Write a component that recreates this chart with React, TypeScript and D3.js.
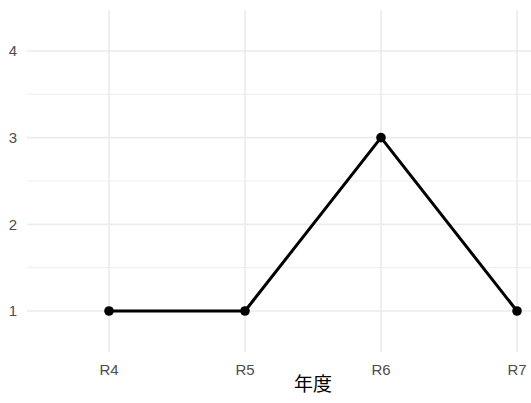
import React from "react";
import * as d3 from "d3";

const categories = ["R4", "R5", "R6", "R7"];
const values = [1, 1, 3, 1];
const yTicks = [1, 2, 3, 4];
const yMinorTicks = [1.5, 2.5, 3.5];
const xTitle = "年度";

const W = 531;
const H = 403;
const panel = { left: 27, top: 10, bottom: 352 };

export default function App() {
  const step = 136;
  const x0 = 109;
  const x = d3
    .scalePoint<string>()
    .domain(categories)
    .range([x0, x0 + step * (categories.length - 1)]);
  const panelRight = x0 + step * (categories.length - 1) + 82;
  const y = d3.scaleLinear().domain([1, 4]).range([311, 51]);

  const line = d3
    .line<number>()
    .x((_, i) => x(categories[i]) as number)
    .y((d) => y(d));

  const font = "'Liberation Sans', Arial, Helvetica, sans-serif";

  return (
    <svg
      width={W}
      height={H}
      style={{ position: "absolute", left: 0, top: 0, background: "#fff" }}
    >
      <rect width={W} height={H} fill="#fff" />
      {yMinorTicks.map((t) => (
        <line
          key={"m" + t}
          x1={panel.left}
          x2={panelRight}
          y1={y(t)}
          y2={y(t)}
          stroke="#EBEBEB"
          strokeWidth={0.9}
        />
      ))}
      {yTicks.map((t) => (
        <line
          key={"y" + t}
          x1={panel.left}
          x2={panelRight}
          y1={y(t)}
          y2={y(t)}
          stroke="#EBEBEB"
          strokeWidth={1.6}
        />
      ))}
      {categories.map((c) => (
        <line
          key={"x" + c}
          x1={x(c)}
          x2={x(c)}
          y1={panel.top}
          y2={panel.bottom}
          stroke="#EBEBEB"
          strokeWidth={1.6}
        />
      ))}
      <path d={line(values) || ""} fill="none" stroke="#000" strokeWidth={3} strokeLinejoin="round" />
      {values.map((v, i) => (
        <circle key={i} cx={x(categories[i])} cy={y(v)} r={4.8} fill="#000" />
      ))}
      {yTicks.map((t) => (
        <text
          key={"yl" + t}
          x={17}
          y={y(t)}
          dy="0.36em"
          textAnchor="end"
          fontFamily={font}
          fontSize={15}
          fill="#4D4D4D"
        >
          {t}
        </text>
      ))}
      {categories.map((c) => (
        <text
          key={"xl" + c}
          x={x(c)}
          y={375}
          textAnchor="middle"
          fontFamily={font}
          fontSize={15}
          fill="#4D4D4D"
        >
          {c}
        </text>
      ))}
      <text
        x={(panel.left + panelRight) / 2}
        y={391}
        textAnchor="middle"
        fontFamily="'Noto Sans CJK JP', 'Noto Sans CJK SC', sans-serif"
        fontSize={19}
        fill="#000"
      >
        {xTitle}
      </text>
    </svg>
  );
}
